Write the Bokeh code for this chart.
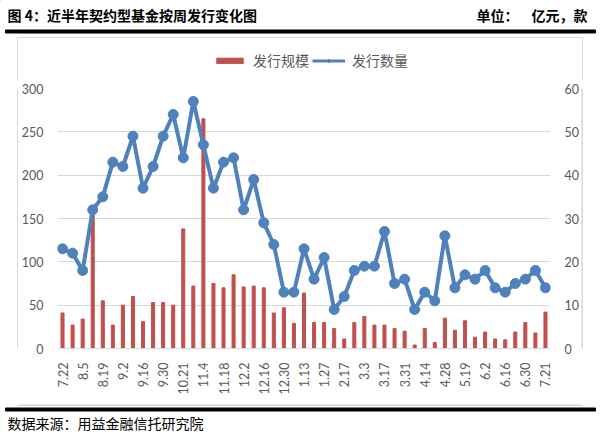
from math import pi

from bokeh.core.properties import value
from bokeh.embed import file_html
from bokeh.layouts import column, row
from bokeh.models import FixedTicker, Legend, LegendItem, LinearAxis, Range1d
from bokeh.plotting import figure
from bokeh.resources import INLINE

# Weekly issuance of contract-type funds over the last year
weeks = ["7.22", "7.29", "8.5", "8.12", "8.19", "8.26", "9.2", "9.9", "9.16", "9.23",
         "9.30", "10.14", "10.21", "10.28", "11.4", "11.11", "11.18", "11.25", "12.2", "12.9",
         "12.16", "12.23", "12.30", "1.6", "1.13", "1.20", "1.27", "2.10", "2.17", "2.24",
         "3.3", "3.10", "3.17", "3.24", "3.31", "4.7", "4.14", "4.21", "4.28", "5.12",
         "5.19", "5.26", "6.2", "6.9", "6.16", "6.23", "6.30", "7.14", "7.21"]

# issuance scale (100 million yuan)
scale = [41, 27, 34, 158, 55, 27, 50, 60, 31, 53,
         53, 50, 138, 72, 265, 75, 70, 85, 71, 72,
         70, 41, 47, 29, 64, 30, 30, 23, 11, 30,
         37, 27, 27, 23, 20, 4, 23, 7, 35, 21,
         32, 13, 19, 11, 10, 19, 30, 18, 42]

# number of products issued
count = [23, 22, 18, 32, 35, 43, 42, 49, 37, 42,
         49, 54, 44, 57, 47, 37, 43, 44, 32, 39,
         29, 24, 13, 13, 23, 16, 21, 9, 12, 18,
         19, 19, 27, 15, 16, 9, 13, 11, 26, 14,
         17, 16, 18, 14, 13, 15, 16, 18, 14]

x = list(range(len(weeks)))
shown_ticks = x[::2]

left_ticks = [0, 50, 100, 150, 200, 250, 300]
right_ticks = [0, 10, 20, 30, 40, 50, 60]

title_text = "图 4：近半年契约型基金按周发行变化图"
unit_label = "单位："
unit_text = "亿元，款"
source_text = "数据来源：用益金融信托研究院"
series_names = ["发行规模", "发行数量"]

RED = "#C0504D"
BLUE = "#4F81BD"
GRAY_TXT = "#595959"
BOX = "#D9D9D9"
TICK_FONT = "Lato"
CJK = "Noto Sans CJK SC"

TOP_H = 80      # heading strip
CHART_H = 324   # chart strip
FOOT_H = 31     # footer strip


def strip(width, height):
    """A blank pixel-addressed panel used for the page furniture."""
    f = figure(width=width, height=height, output_backend="svg",
               toolbar_location=None, x_range=Range1d(0, width),
               y_range=Range1d(height, 0), x_axis_type=None, y_axis_type=None,
               min_border=0, outline_line_color=None,
               background_fill_color="white", border_fill_color="white")
    f.grid.visible = False
    return f


# ---- heading, top rule, upper part of the chart box and the legend ----
top = strip(600, TOP_H)
top.text(x=[7], y=[14], text=[title_text], text_font=value(CJK),
         text_font_style="bold", text_font_size="14px", text_baseline="middle",
         text_color="black")
top.text(x=[476], y=[14], text=[unit_label], text_font=value(CJK),
         text_font_style="bold", text_font_size="14px", text_baseline="middle",
         text_color="black")
top.text(x=[587], y=[14], text=[unit_text], text_font=value(CJK),
         text_font_style="bold", text_font_size="14px", text_baseline="middle",
         text_align="right", text_color="black")
top.quad(left=[5], right=[595], top=[29.5], bottom=[32.5], color="black")
top.quad(left=[17], right=[582], top=[37], bottom=[TOP_H + 1], fill_alpha=0,
         line_color=BOX, line_width=1)

# key glyphs for the legend; parked left of the visible strip
key_bar = top.vbar(x=[-50], top=[0], bottom=[-10], width=1, color=RED)
key_line = top.line(x=[-60, -50], y=[0, 0], line_width=3, color=BLUE)
key_dot = top.scatter(x=[-55], y=[0], size=7, color=BLUE)
legend = Legend(items=[LegendItem(label=series_names[0], renderers=[key_bar]),
                       LegendItem(label=series_names[1], renderers=[key_line, key_dot])],
                orientation="horizontal", location=(213, TOP_H - 70),
                glyph_width=33, glyph_height=7, label_standoff=7, spacing=3,
                padding=0, margin=0, border_line_color=None,
                background_fill_alpha=0, label_text_font=CJK,
                label_text_font_size="14px", label_text_color=GRAY_TXT)
top.add_layout(legend, "center")

# ---- chart ----
p = figure(width=563, height=CHART_H, output_backend="svg", toolbar_location=None,
           x_range=Range1d(-0.5, len(weeks) - 0.5), y_range=Range1d(0, 300),
           min_border_left=37, min_border_right=30, min_border_top=88 - TOP_H,
           min_border_bottom=56, background_fill_color="white",
           border_fill_color="white", outline_line_color=None)
p.extra_y_ranges = {"cnt": Range1d(0, 60)}

p.vbar(x=x, top=scale, width=0.3, color=RED)
p.line(x, count, y_range_name="cnt", line_width=4, color=BLUE)
p.scatter(x, count, y_range_name="cnt", size=10, color=BLUE)

p.xaxis.ticker = FixedTicker(ticks=shown_ticks)
p.xaxis.major_label_overrides = {i: weeks[i] for i in shown_ticks}
p.xaxis.major_label_orientation = pi / 2
p.xaxis.axis_line_color = BOX
p.xaxis.major_tick_line_color = None
p.xaxis.minor_tick_line_color = None

p.yaxis.ticker = FixedTicker(ticks=left_ticks)
p.yaxis.axis_line_color = None
p.yaxis.major_tick_line_color = None
p.yaxis.minor_tick_line_color = None

right = LinearAxis(y_range_name="cnt", ticker=FixedTicker(ticks=right_ticks),
                   axis_line_color=None, major_tick_line_color=None,
                   minor_tick_line_color=None)
p.add_layout(right, "right")

for ax in [p.xaxis[0], p.yaxis[0], right]:
    ax.major_label_text_color = GRAY_TXT
    ax.major_label_text_font = TICK_FONT
    ax.major_label_text_font_size = "12.5px"
    ax.major_label_standoff = 8

p.xgrid.grid_line_color = None
p.ygrid.grid_line_color = BOX
p.ygrid.ticker = FixedTicker(ticks=left_ticks)

# side edges of the chart box
left_edge = strip(18, CHART_H)
left_edge.quad(left=[17], right=[18], top=[0], bottom=[CHART_H], color=BOX)
right_edge = strip(19, CHART_H)
right_edge.quad(left=[0], right=[1], top=[0], bottom=[CHART_H], color=BOX)

# ---- box bottom, lower rule and source line ----
bottom = strip(600, FOOT_H)
bottom.quad(left=[17], right=[582], top=[0], bottom=[1], color=BOX)
bottom.quad(left=[5], right=[595], top=[3.5], bottom=[6.5], color="black")
bottom.text(x=[7], y=[18], text=[source_text], text_font=value(CJK),
            text_font_size="14px", text_baseline="middle", text_color="black")

page = column(top, row(left_edge, p, right_edge), bottom)

open("out.html", "w").write(file_html(page, INLINE))
